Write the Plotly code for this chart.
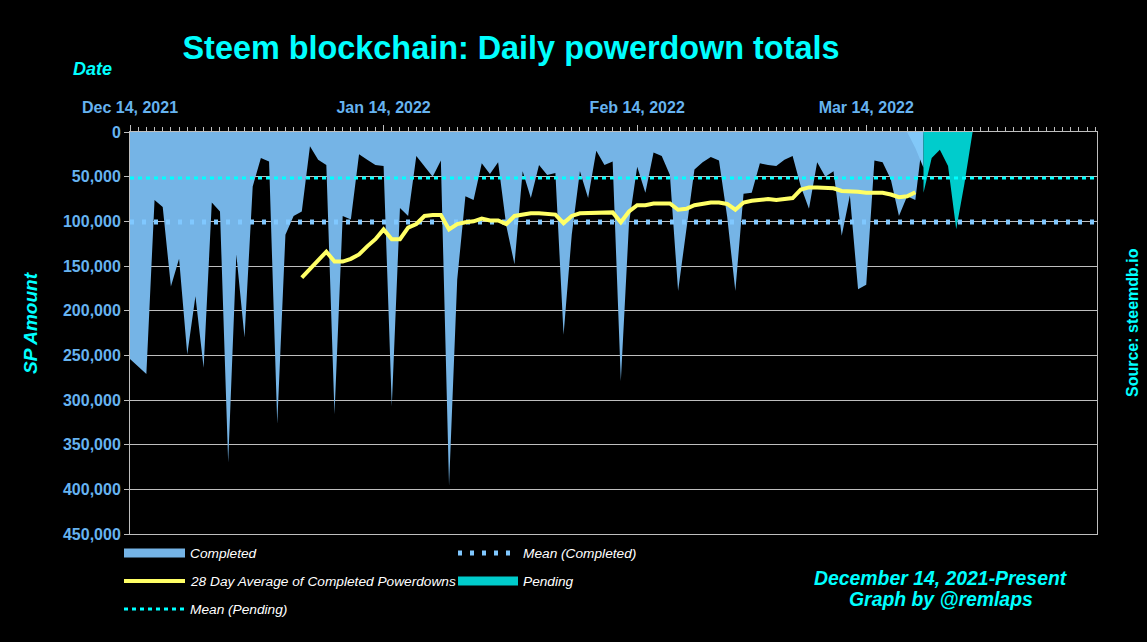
import pandas as pd
import plotly.graph_objects as go

# ---------------- data ----------------
start_date = "2021-12-14"
completed = [254000, 262000, 271000, 76000, 84000, 173000, 142000, 249000, 184000, 264000,
             79000, 89000, 370000, 137000, 230000, 61000, 29000, 33000, 327000, 115000,
             94000, 89000, 16000, 31000, 37000, 316000, 94000, 98000, 25000, 31000,
             37000, 38000, 307000, 85000, 94000, 27000, 38000, 50000, 32000, 396000,
             165000, 72000, 76000, 35000, 47000, 34000, 105000, 148000, 44000, 74000,
             37000, 48000, 46000, 227000, 115000, 44000, 74000, 21000, 37000, 33000,
             279000, 102000, 39000, 68000, 23000, 27000, 48000, 178000, 110000, 42000,
             34000, 28000, 32000, 95000, 178000, 69000, 68000, 35000, 37000, 38000,
             31000, 27000, 61000, 86000, 34000, 50000, 44000, 116000, 71000, 176000,
             171000, 32000, 34000, 53000, 94000, 72000, 76000, 0]

avg_start = "2022-01-04"
avg28 = [163000, 153000, 143000, 134000, 145000, 145000, 142000, 137000, 128000, 120000,
         109000, 120000, 120000, 107000, 103000, 94000, 93000, 93000, 109000, 103000,
         101000, 100000, 97000, 99000, 99000, 103000, 94000, 92500, 91000, 91000,
         92000, 92500, 102000, 94000, 91000, 91000, 90000, 90000, 90000, 101000,
         89000, 82000, 82000, 80000, 80000, 80000, 87000, 86000, 82000, 80500,
         79000, 79000, 80500, 87000, 79000, 77000, 76000, 75000, 76000, 75000,
         74000, 64500, 62000, 62000, 62000, 63000, 66000, 66000, 67000, 68000,
         68000, 68000, 70000, 73000, 72000, 67500]

partial_start = "2022-03-19"
partial = [0, 18000, 40000]

pending_start = "2022-03-21"
pending = [68000, 29000, 20000, 38000, 109000, 58000, 0]

mean_completed = 100700
mean_pending = 51500

x_range = ["2021-12-14", "2022-04-11 05:00"]
tick_dates = ["2021-12-14", "2022-01-14", "2022-02-14", "2022-03-14"]
y_ticks = [0, 50000, 100000, 150000, 200000, 250000, 300000, 350000, 400000, 450000]

# ---------------- styles ----------------
C_COMP = "#75B4E6"
C_PART = "#82C8F8"
C_PEND = "#00CCCC"
C_AVG = "#FFFF66"
C_MEANC = "#80C8FF"
C_MEANP = "#00FFFF"
CYAN = "#00FFFF"
TICKC = "#66B3F0"
GRID = "#BEBEBE"
FONT = "Liberation Sans, Arial, sans-serif"

comp_x = pd.date_range(start_date, periods=len(completed))
avg_x = pd.date_range(avg_start, periods=len(avg28))
part_x = pd.date_range(partial_start, periods=len(partial))
pend_x = pd.date_range(pending_start, periods=len(pending))

fig = go.Figure()
fig.add_trace(go.Scatter(x=comp_x, y=completed, mode="lines", fill="tozeroy",
                         line=dict(width=0, color=C_COMP), fillcolor=C_COMP,
                         name="Completed", showlegend=False))
fig.add_trace(go.Scatter(x=part_x, y=partial, mode="lines", fill="tozeroy",
                         line=dict(width=0, color=C_PART), fillcolor=C_PART,
                         showlegend=False))
fig.add_trace(go.Scatter(x=pend_x, y=pending, mode="lines", fill="tozeroy",
                         line=dict(width=0, color=C_PEND), fillcolor=C_PEND,
                         name="Pending", showlegend=False))
fig.add_trace(go.Scatter(x=x_range, y=[mean_completed, mean_completed], mode="lines",
                         line=dict(width=5, color=C_MEANC, dash="4px,8px"),
                         name="Mean (Completed)", showlegend=False))
fig.add_trace(go.Scatter(x=x_range, y=[mean_pending, mean_pending], mode="lines",
                         line=dict(width=3, color=C_MEANP, dash="4px,4px"),
                         name="Mean (Pending)", showlegend=False))
fig.add_trace(go.Scatter(x=avg_x, y=avg28, mode="lines",
                         line=dict(width=4, color=C_AVG),
                         name="28 Day Average of Completed Powerdowns", showlegend=False))

# ---------------- layout helpers ----------------
L, R, T, B = 130, 1097, 132, 534
def px(x):
    return (x - L) / (R - L)
def py(y):
    return (B - y) / (B - T)

annotations = []
shapes = []

def add_text(x, y, text, size, color, italic=False, bold=False, angle=0, xanchor="center"):
    annotations.append(dict(xref="paper", yref="paper", x=px(x), y=py(y), text=text,
                            showarrow=False, xanchor=xanchor, yanchor="middle", textangle=angle,
                            font=dict(family=FONT, size=size, color=color,
                                      style="italic" if italic else "normal",
                                      weight="bold" if bold else "normal")))

add_text(92, 69, "Date", 18, CYAN, italic=True, bold=True)
add_text(30, 323, "SP Amount", 19, CYAN, italic=True, bold=True, angle=-90)
add_text(1132, 323, "Source: steemdb.io", 16, CYAN, bold=True, angle=-90)
add_text(941, 578, "December 14, 2021-Present", 19.4, CYAN, italic=True, bold=True)
add_text(941, 599, "Graph by @remlaps", 19.4, CYAN, italic=True, bold=True)

# legend (manual)
legend_items = [
    (124, 185, 553, "Completed", dict(color=C_COMP, width=9)),
    (458, 518, 553, "Mean (Completed)", dict(color=C_MEANC, width=5, dash="4px,8px")),
    (124, 185, 581, "28 Day Average of Completed Powerdowns", dict(color=C_AVG, width=4)),
    (458, 518, 581, "Pending", dict(color=C_PEND, width=9)),
    (124, 185, 609, "Mean (Pending)", dict(color=C_MEANP, width=3, dash="4px,4px")),
]
for x0, x1, yy, label, ln in legend_items:
    shapes.append(dict(type="line", xref="paper", yref="paper", x0=px(x0), x1=px(x1),
                       y0=py(yy), y1=py(yy), line=ln))
    add_text(x1 + 3, yy, label, 13.7, "#FFFFFF", italic=True, xanchor="left")

fig.update_layout(
    width=1147, height=642,
    paper_bgcolor="#000000", plot_bgcolor="#000000",
    margin=dict(l=L, r=1147 - R, t=T, b=642 - B),
    showlegend=False,
    title=dict(text="<b>Steem blockchain: Daily powerdown totals</b>",
               x=511 / 1147, xref="container", xanchor="center",
               y=1 - 48 / 642, yref="container", yanchor="middle",
               font=dict(family=FONT, size=32.4, color=CYAN)),
    xaxis=dict(type="date", side="top", range=x_range,
               tickvals=tick_dates, tickformat="%b %d, %Y",
               tickfont=dict(family=FONT, size=16, color=TICKC, weight="bold"),
               ticks="outside", ticklen=6, tickcolor=GRID,
               minor=dict(dtick=86400000, tick0="2021-12-14", ticks="outside",
                          ticklen=4, tickcolor=GRID, showgrid=False),
               showgrid=False, zeroline=False,
               showline=True, linecolor=GRID, linewidth=1, mirror=True,
               ticklabelstandoff=6),
    yaxis=dict(range=[450000, 0], tickvals=y_ticks, tickformat=",",
               tickfont=dict(family=FONT, size=16, color=TICKC, weight="bold"),
               ticks="outside", ticklen=5, tickcolor=GRID,
               showgrid=True, gridcolor=GRID, gridwidth=1, zeroline=False,
               showline=True, linecolor=GRID, linewidth=1, mirror=True),
    annotations=annotations,
    shapes=shapes,
)

fig.write_html("out.html",
               config={"displayModeBar": False},
               post_script="document.body.style.margin='0';document.body.style.padding='0';"
                           "document.body.style.background='#000';")
